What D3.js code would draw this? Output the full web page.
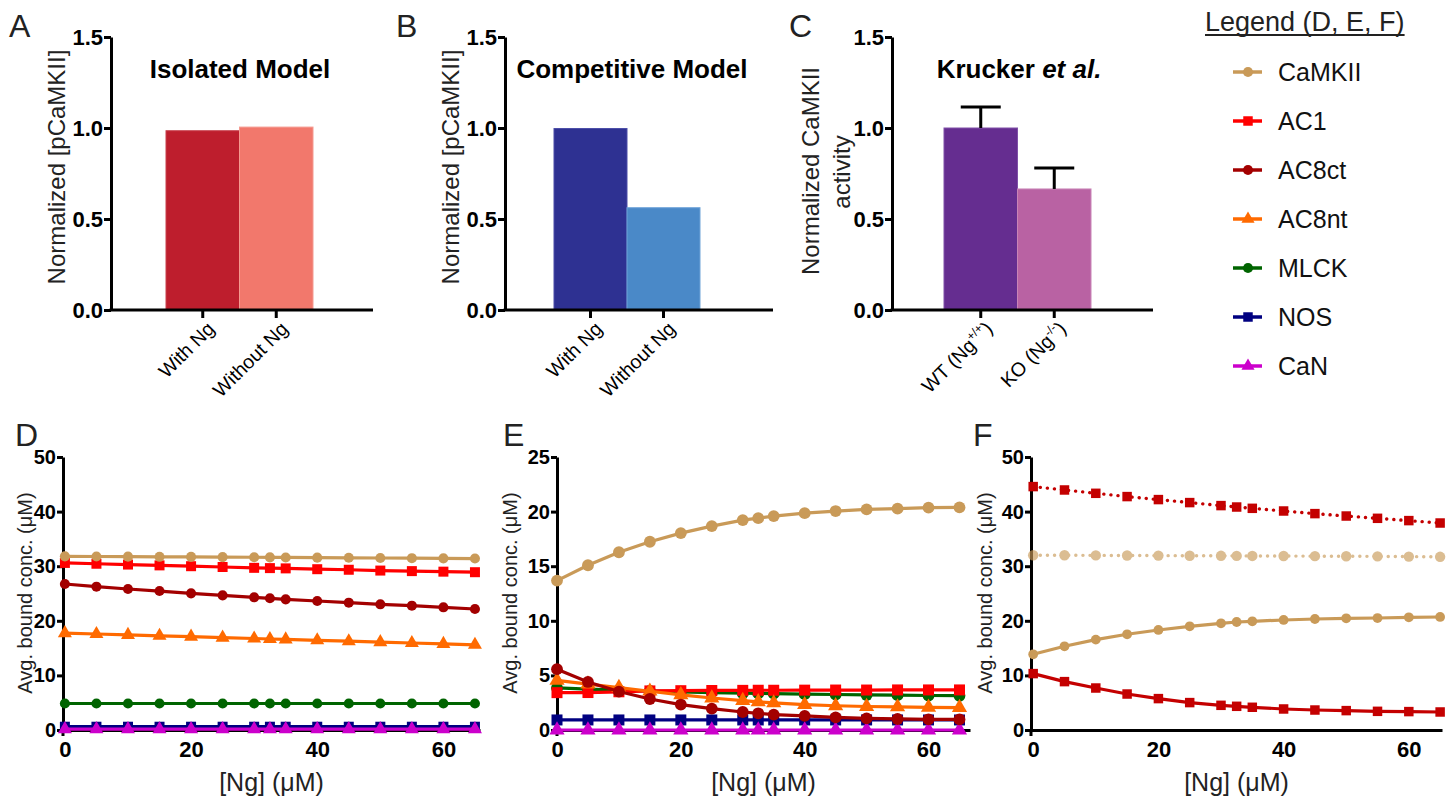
<!DOCTYPE html>
<html>
<head>
<meta charset="utf-8">
<script src="https://cdn.jsdelivr.net/npm/d3@7"></script>
<style>
  html, body { margin: 0; padding: 0; background: #fff; }
  svg { display: block; font-family: "Liberation Sans", Arial, Helvetica, sans-serif; }
</style>
</head>
<body>
<svg id="chart" width="1455" height="801"></svg>
<script>
// ---------------- DATA ----------------
const barTicks = [0, 0.5, 1.0, 1.5];
const catsA = ["With Ng", "Without Ng"];
const valsA = [0.985, 1.005];
const catsB = ["With Ng", "Without Ng"];
const valsB = [0.997, 0.562];
const catsC = ["WT", "KO"];
const supC = ["+/+", "-/-"];
const valsC = [1.0, 0.665];
const errC = [0.115, 0.115];

const ngConc = [0, 5, 10, 15, 20, 25, 30, 32.5, 35, 40, 45, 50, 55, 60, 65];
const seriesNames = ["CaMKII", "AC1", "AC8ct", "AC8nt", "MLCK", "NOS", "CaN"];

// Panel D (isolated model)
const dCaMKII = [31.8, 31.78, 31.75, 31.72, 31.7, 31.67, 31.64, 31.62, 31.6, 31.57, 31.54, 31.5, 31.47, 31.44, 31.4];
const dAC1    = [30.6, 30.45, 30.3, 30.15, 30.0, 29.85, 29.7, 29.65, 29.6, 29.45, 29.35, 29.2, 29.1, 29.0, 28.9];
const dAC8ct  = [26.74, 26.25, 25.82, 25.45, 25.03, 24.66, 24.3, 24.12, 23.93, 23.63, 23.32, 23.02, 22.77, 22.47, 22.16];
const dAC8nt  = [17.75, 17.58, 17.42, 17.25, 17.09, 16.92, 16.76, 16.67, 16.59, 16.43, 16.26, 16.1, 15.93, 15.77, 15.6];
const dMLCK   = [4.85, 4.85, 4.85, 4.85, 4.85, 4.85, 4.85, 4.85, 4.85, 4.85, 4.85, 4.85, 4.85, 4.85, 4.85];
const dNOS    = [0.6, 0.6, 0.6, 0.6, 0.6, 0.6, 0.6, 0.6, 0.6, 0.6, 0.6, 0.6, 0.6, 0.6, 0.6];
const dCaN    = [0.15, 0.15, 0.15, 0.15, 0.15, 0.15, 0.15, 0.15, 0.15, 0.15, 0.15, 0.15, 0.15, 0.15, 0.15];

// Panel E (competitive model)
const eCaMKII = [13.68, 15.09, 16.28, 17.24, 18.03, 18.67, 19.22, 19.4, 19.59, 19.86, 20.05, 20.2, 20.27, 20.36, 20.39];
const eAC1    = [3.42, 3.43, 3.5, 3.58, 3.6, 3.62, 3.63, 3.64, 3.64, 3.65, 3.66, 3.66, 3.67, 3.67, 3.67];
const eAC8ct  = [5.57, 4.4, 3.52, 2.84, 2.33, 1.96, 1.65, 1.53, 1.41, 1.29, 1.16, 1.07, 1.01, 0.98, 0.97];
const eAC8nt  = [4.55, 4.2, 3.88, 3.55, 3.22, 2.93, 2.69, 2.58, 2.48, 2.32, 2.22, 2.15, 2.11, 2.08, 2.05];
const eMLCK   = [3.85, 3.74, 3.65, 3.57, 3.5, 3.43, 3.37, 3.35, 3.33, 3.28, 3.25, 3.21, 3.19, 3.16, 3.14];
const eNOS    = [0.92, 0.92, 0.92, 0.92, 0.92, 0.92, 0.92, 0.92, 0.92, 0.92, 0.92, 0.92, 0.92, 0.92, 0.92];
const eCaN    = [0, 0, 0, 0, 0, 0, 0, 0, 0, 0, 0, 0, 0, 0, 0];

// Panel F (CaMKII and AC1: dotted = isolated, solid = competitive)
const fCaMKIIiso  = [32.0, 32.0, 31.98, 31.96, 31.94, 31.92, 31.9, 31.89, 31.88, 31.86, 31.84, 31.82, 31.8, 31.76, 31.72];
const fAC1iso     = [44.58, 43.96, 43.35, 42.75, 42.2, 41.65, 41.1, 40.84, 40.6, 40.11, 39.63, 39.19, 38.77, 38.35, 37.91];
const fCaMKIIcomp = [13.86, 15.33, 16.56, 17.53, 18.32, 18.99, 19.54, 19.78, 19.91, 20.15, 20.33, 20.46, 20.51, 20.64, 20.7];
const fAC1comp    = [10.33, 8.86, 7.69, 6.59, 5.75, 5.02, 4.52, 4.34, 4.16, 3.85, 3.66, 3.55, 3.42, 3.37, 3.3];

const lineXTicks = [0, 20, 40, 60];
const dYTicks = [0, 10, 20, 30, 40, 50];
const eYTicks = [0, 5, 10, 15, 20, 25];
const fYTicks = [0, 10, 20, 30, 40, 50];

// ---------------- STYLES ----------------
const colors = {
  CaMKII: "#C99A58", AC1: "#FF0000", AC8ct: "#A30000", AC8nt: "#FF6A00",
  MLCK: "#006400", NOS: "#000080", CaN: "#CC00CC"
};
const shapes = {
  CaMKII: d3.symbolCircle, AC1: d3.symbolSquare, AC8ct: d3.symbolCircle, AC8nt: d3.symbolTriangle,
  MLCK: d3.symbolCircle, NOS: d3.symbolSquare, CaN: d3.symbolTriangle
};

const svg = d3.select("#chart");
svg.append("rect").attr("width", 1455).attr("height", 801).attr("fill", "#fff");

function panelLetter(t, x, y) {
  svg.append("text").attr("x", x).attr("y", y).attr("font-size", 32).attr("fill", "#222").text(t);
}

function styleAxis(g) {
  g.selectAll(".domain").attr("stroke", "#000").attr("stroke-width", 3);
  g.selectAll(".tick line").attr("stroke", "#000").attr("stroke-width", 3);
  g.selectAll(".tick text").attr("fill", "#000").attr("font-family", null);
}

// ---------------- BAR PANELS ----------------
function barPanel(o) {
  const y = d3.scaleLinear().domain([0, 1.5]).range([310, 37]);
  const x = d3.scaleBand().domain(o.cats).range([o.b0, o.b1]).paddingInner(0).paddingOuter(0);
  const g = svg.append("g");

  g.selectAll("rect.bar").data(o.vals).enter().append("rect")
    .attr("x", (d, i) => x(o.cats[i]))
    .attr("width", x.bandwidth())
    .attr("y", d => y(d))
    .attr("height", d => y(0) - y(d))
    .attr("fill", (d, i) => o.colors[i])
    .attr("stroke", (d, i) => o.strokes[i]).attr("stroke-width", 1);

  if (o.errs) {
    o.vals.forEach((v, i) => {
      const cx = x(o.cats[i]) + x.bandwidth() / 2;
      g.append("line").attr("x1", cx).attr("x2", cx).attr("y1", y(v)).attr("y2", y(v + o.errs[i]))
        .attr("stroke", "#000").attr("stroke-width", 3);
      g.append("line").attr("x1", cx - 20).attr("x2", cx + 20).attr("y1", y(v + o.errs[i])).attr("y2", y(v + o.errs[i]))
        .attr("stroke", "#000").attr("stroke-width", 3);
    });
  }

  const ya = g.append("g").attr("transform", `translate(${o.ax},0)`)
    .call(d3.axisLeft(y).tickValues(barTicks).tickFormat(d3.format(".1f")).tickSize(7).tickSizeOuter(0).tickPadding(1));
  styleAxis(ya);
  ya.selectAll(".tick text").attr("font-size", 22).attr("font-weight", "bold");

  const xa = g.append("g").attr("transform", `translate(0,${y(0)})`)
    .call(d3.axisBottom(x).tickSize(8).tickSizeOuter(0));
  xa.select(".domain").remove();
  styleAxis(xa);
  g.append("line").attr("x1", o.ax - 1.5).attr("x2", o.axEnd).attr("y1", y(0)).attr("y2", y(0))
    .attr("stroke", "#000").attr("stroke-width", 3);
  xa.selectAll(".tick text")
    .attr("font-size", 19.5).attr("text-anchor", "end")
    .attr("y", 0).attr("dy", 0)
    .attr("transform", "translate(13,20) rotate(-45)");
  if (o.sups) {
    xa.selectAll(".tick text").each(function (d, i) {
      const t = d3.select(this);
      t.text(null);
      t.append("tspan").text(d + " (Ng");
      t.append("tspan").attr("font-size", 12).attr("dy", -8).text(o.sups[i]);
      t.append("tspan").attr("dy", 8).text(")");
    });
  }

  const tt = g.append("text").attr("x", o.titleX).attr("y", 78).attr("text-anchor", "middle")
    .attr("font-size", 26).attr("font-weight", "bold").attr("fill", "#000");
  o.title.forEach(p => tt.append("tspan").attr("font-style", p.italic ? "italic" : "normal").text(p.t));

  o.ylabel.forEach(l => {
    g.append("text").attr("transform", `translate(${l.x},${l.y}) rotate(-90)`)
      .attr("text-anchor", "middle").attr("font-size", 24).attr("fill", "#222").text(l.t);
  });
}

barPanel({
  cats: catsA, vals: valsA, colors: ["#BE1E2D", "#F2786C"], strokes: ["#c8404c", "#f59a90"],
  b0: 166, b1: 313, ax: 111, axEnd: 373, titleX: 240,
  title: [{ t: "Isolated Model" }],
  ylabel: [{ t: "Normalized [pCaMKII]", x: 65, y: 167 }]
});
barPanel({
  cats: catsB, vals: valsB, colors: ["#2E3192", "#4A89C8"], strokes: ["#4a4da8", "#6ea3d8"],
  b0: 554, b1: 700, ax: 505, axEnd: 773, titleX: 632,
  title: [{ t: "Competitive Model" }],
  ylabel: [{ t: "Normalized [pCaMKII]", x: 459, y: 167 }]
});
barPanel({
  cats: catsC, vals: valsC, errs: errC, sups: supC, colors: ["#652D90", "#B962A3"], strokes: ["#8050a8", "#c884b6"],
  b0: 944, b1: 1091, ax: 892, axEnd: 1153, titleX: 1019,
  title: [{ t: "Krucker " }, { t: "et al.", italic: true }],
  ylabel: [{ t: "Normalized CaMKII", x: 819, y: 171 }, { t: "activity", x: 850, y: 172 }]
});

panelLetter("A", 9, 37);
panelLetter("B", 396, 37);
panelLetter("C", 789, 37);

// ---------------- LEGEND ----------------
const lg = svg.append("g");
const lt = lg.append("text").attr("x", 1205).attr("y", 31).attr("font-size", 27).attr("fill", "#222")
  .text("Legend (D, E, F)");
const lw = lt.node().getComputedTextLength();
lg.append("line").attr("x1", 1205).attr("x2", 1205 + lw).attr("y1", 35).attr("y2", 35)
  .attr("stroke", "#222").attr("stroke-width", 1.8);
const legY = d3.scalePoint().domain(seriesNames).range([72, 366]);
seriesNames.forEach(n => {
  const yy = legY(n);
  lg.append("line").attr("x1", 1233).attr("x2", 1262).attr("y1", yy).attr("y2", yy)
    .attr("stroke", colors[n]).attr("stroke-width", 3.5);
  lg.append("path").attr("d", d3.symbol().type(shapes[n]).size(shapes[n] === d3.symbolTriangle ? 75 : (shapes[n] === d3.symbolSquare ? 90 : 80))())
    .attr("transform", `translate(1248,${yy})`).attr("fill", colors[n]);
  lg.append("text").attr("x", 1278).attr("y", yy + 9).attr("font-size", 25).attr("fill", "#111").text(n);
});

// ---------------- LINE PANELS ----------------
function linePanel(o) {
  const x = d3.scaleLinear().domain(o.xd).range(o.xr);
  const y = d3.scaleLinear().domain(o.yd).range([730, 457]);
  const g = svg.append("g");

  const xa = g.append("g").attr("transform", `translate(0,${y(0)})`)
    .call(d3.axisBottom(x).tickValues(lineXTicks).tickSize(0).tickSizeOuter(0).tickPadding(11));
  styleAxis(xa);
  xa.selectAll(".tick text").attr("font-size", 22).attr("font-weight", "bold");

  const ya = g.append("g").attr("transform", `translate(${o.xr[0]},0)`)
    .call(d3.axisLeft(y).tickValues(o.yt).tickSize(6).tickSizeOuter(0).tickPadding(1));
  styleAxis(ya);
  ya.selectAll(".tick text").attr("font-size", 20).attr("font-weight", "bold");
  g.append("line").attr("x1", o.xr[0]).attr("x2", o.xr[0]).attr("y1", y(0)).attr("y2", y(0) + 6)
    .attr("stroke", "#000").attr("stroke-width", 3);

  const line = d3.line().x((d, i) => x(ngConc[i])).y(d => y(d));
  o.series.forEach(s => {
    const sg = g.append("g").attr("opacity", s.opacity || 1);
    sg.append("path").attr("d", line(s.vals)).attr("fill", "none")
      .attr("stroke", s.color).attr("stroke-width", s.dotted ? 3.4 : 3.2)
      .attr("stroke-dasharray", s.dotted ? "0.1,7" : null)
      .attr("stroke-linecap", s.dotted ? "round" : "butt");
    sg.selectAll("path.m").data(s.vals).enter().append("path")
      .attr("d", d3.symbol().type(s.shape).size(s.size)())
      .attr("transform", (d, i) => `translate(${x(ngConc[i])},${y(d)})`)
      .attr("fill", s.color);
  });

  g.append("text").attr("x", (o.xr[0] + o.xr[1]) / 2).attr("y", 791).attr("text-anchor", "middle")
    .attr("font-size", 25).attr("fill", "#222").text("[Ng] (\u03bcM)");
  g.append("text").attr("transform", `translate(${o.ylx},593) rotate(-90)`).attr("text-anchor", "middle")
    .attr("font-size", 20).attr("fill", "#222").text("Avg. bound conc. (\u03bcM)");
}

function mk(name, vals, sz) {
  const base = shapes[name] === d3.symbolSquare ? sz.sq : (shapes[name] === d3.symbolTriangle ? sz.tri : sz.c);
  return { name, vals, color: colors[name], shape: shapes[name], size: base };
}

const szD = { c: 80, sq: 100, tri: 85 };
linePanel({
  xd: [-0.3, 65.8], xr: [63, 480], yd: [0, 50], yt: dYTicks, ylx: 32,
  series: [
    mk("NOS", dNOS, szD), mk("CaN", dCaN, szD), mk("MLCK", dMLCK, szD), mk("AC8nt", dAC8nt, szD),
    mk("AC8ct", dAC8ct, szD), mk("AC1", dAC1, szD), mk("CaMKII", dCaMKII, szD)
  ]
});
const szE = { c: 110, sq: 121, tri: 100 };
linePanel({
  xd: [0, 66.7], xr: [557, 970], yd: [0, 25], yt: eYTicks, ylx: 517,
  series: [
    mk("NOS", eNOS, szE), mk("CaN", eCaN, szE), mk("MLCK", eMLCK, szE), mk("AC1", eAC1, szE),
    mk("AC8nt", eAC8nt, szE), mk("AC8ct", eAC8ct, szE), mk("CaMKII", eCaMKII, szE)
  ]
});
linePanel({
  xd: [-0.35, 65.3], xr: [1031, 1442], yd: [0, 50], yt: fYTicks, ylx: 992,
  series: [
    { vals: fCaMKIIiso, color: colors.CaMKII, shape: d3.symbolCircle, size: 85, dotted: true, opacity: 0.65 },
    { vals: fAC1iso, color: "#C40000", shape: d3.symbolSquare, size: 90, dotted: true },
    { vals: fCaMKIIcomp, color: colors.CaMKII, shape: d3.symbolCircle, size: 75 },
    { vals: fAC1comp, color: "#C40000", shape: d3.symbolSquare, size: 90 }
  ]
});

panelLetter("D", 15, 446);
panelLetter("E", 503, 446);
panelLetter("F", 973, 446);
</script>
</body>
</html>
